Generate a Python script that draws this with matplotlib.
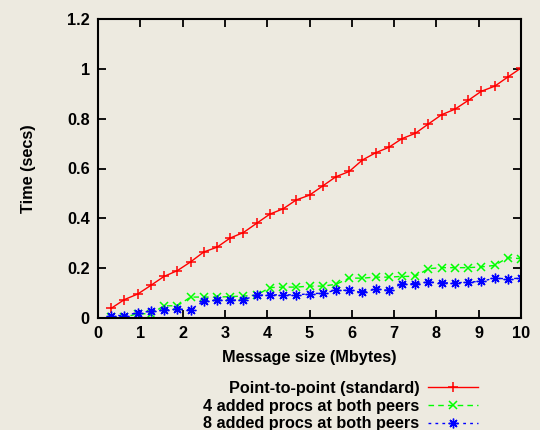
import numpy as np
import matplotlib
matplotlib.use('Agg')
import matplotlib.pyplot as plt

# message sizes in Mbytes (32 steps of 0.3125)
sizes = np.arange(1, 33) * 0.3125

p2p = [0.039, 0.074, 0.096, 0.131, 0.167, 0.190, 0.225, 0.265, 0.284, 0.321,
       0.343, 0.380, 0.417, 0.438, 0.474, 0.493, 0.530, 0.567, 0.588, 0.634,
       0.663, 0.685, 0.720, 0.741, 0.779, 0.816, 0.838, 0.873, 0.910, 0.930,
       0.967, 1.003]
procs4 = [0.003, 0.003, 0.017, 0.017, 0.049, 0.049, 0.084, 0.084, 0.084, 0.086,
          0.088, 0.092, 0.122, 0.124, 0.124, 0.128, 0.128, 0.135, 0.160, 0.160,
          0.164, 0.164, 0.167, 0.167, 0.198, 0.202, 0.202, 0.202, 0.205, 0.211,
          0.242, 0.238]
procs8 = [0.010, 0.010, 0.021, 0.027, 0.031, 0.035, 0.034, 0.068, 0.071, 0.071,
          0.073, 0.091, 0.093, 0.093, 0.093, 0.097, 0.100, 0.111, 0.111, 0.103,
          0.116, 0.111, 0.138, 0.138, 0.144, 0.141, 0.141, 0.144, 0.147, 0.160,
          0.157, 0.160]

labels = ['Point-to-point (standard)',
          '4 added procs at both peers',
          '8 added procs at both peers']

xticks = list(range(0, 11))
yticks = [0, 0.2, 0.4, 0.6, 0.8, 1, 1.2]
ytick_labels = ['0', '0.2', '0.4', '0.6', '0.8', '1', '1.2']

bg = '#edeae0'
plt.rcParams['font.family'] = ['Liberation Sans', 'DejaVu Sans']
plt.rcParams['font.weight'] = 'bold'
plt.rcParams['font.size'] = 11.7

fig = plt.figure(figsize=(5.4, 4.3), dpi=100, facecolor=bg)
ax = fig.add_axes([98/540, 1 - 318/430, 423/540, 299/430], facecolor=bg)

ax.plot(sizes, p2p, color='#ff0000', linestyle='-', lw=1,
        marker='+', ms=7, mew=1.1, label=labels[0])
ax.plot(sizes, procs4, color='#00ff00', linestyle=(0, (4, 3)), lw=1,
        marker='x', ms=6, mew=1.1, label=labels[1])
ax.plot(sizes, procs8, color='#0000ff', linestyle=(0, (2, 3)), lw=1,
        marker=(8, 2, 0), ms=7, mew=1.0, label=labels[2])

ax.set_xlim(0, 10)
ax.set_ylim(0, 1.2)
ax.set_xticks(xticks)
ax.set_xticklabels([str(t) for t in xticks])
ax.set_yticks(yticks)
ax.set_yticklabels(ytick_labels)
ax.tick_params(direction='in', length=6, width=1.3, top=True, right=True, pad=6)
for s in ax.spines.values():
    s.set_linewidth(1.5)

ax.set_xlabel('Message size (Mbytes)', fontweight='bold', labelpad=6)
ax.set_ylabel('Time (secs)', fontweight='bold', labelpad=22)

fig.legend(loc='upper right', bbox_to_anchor=(478/540, 1 - 381/430),
           frameon=False, markerfirst=False, handlelength=3.1,
           handletextpad=0.5, labelspacing=0.16, borderpad=0,
           borderaxespad=0, fontsize=11.7)

fig.savefig('out.png', dpi=100, facecolor=bg)
